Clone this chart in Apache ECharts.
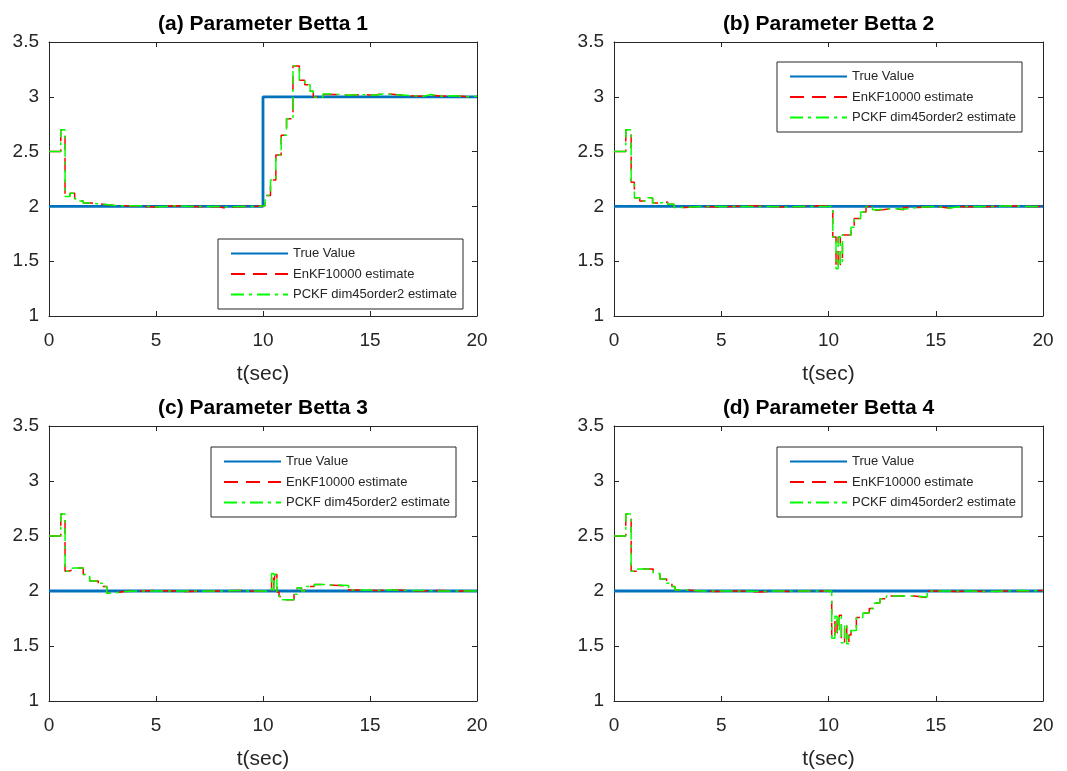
<!DOCTYPE html>
<html>
<head>
<meta charset="utf-8">
<script src="https://cdn.jsdelivr.net/npm/echarts@6/dist/echarts.min.js"></script>
<style>
  html, body { margin: 0; padding: 0; background: #fff; }
  #chart { width: 1067px; height: 771px; }
</style>
</head>
<body>
<div id="chart"></div>
<script>
// panel (a)
const tA     = [0, 0.55, 0.75, 0.98, 1.2, 1.4, 1.6, 2.0, 2.5, 3.0, 3.6, 4.3, 5.0, 5.8, 6.6, 7.4, 7.9, 8.2, 9.0, 9.6, 10.1, 10.35, 10.6, 10.85, 11.1, 11.4, 11.7, 11.95, 12.2, 12.35, 12.8, 13.4, 14.0, 14.6, 15.2, 15.6, 16.2, 16.9, 17.5, 17.8, 18.4, 19.0, 19.6, 20];
const enkfA  = [2.5, 2.7, 2.09, 2.12, 2.07, 2.05, 2.03, 2.02, 2.01, 2.005, 2.0, 1.995, 2.005, 2.0, 1.995, 2.0, 1.985, 2.0, 2.0, 2.005, 2.1, 2.24, 2.47, 2.65, 2.8, 3.28, 3.15, 3.11, 3.05, 2.995, 3.02, 3.015, 3.02, 3.015, 3.03, 3.02, 3.01, 3.005, 3.015, 3.005, 3.01, 3.0, 3.005, 3.0];
const pckfA  = [2.5, 2.7, 2.09, 2.12, 2.07, 2.05, 2.03, 2.02, 2.01, 2.005, 2.005, 1.995, 2.005, 2.0, 2.0, 2.0, 1.995, 2.0, 2.0, 2.005, 2.1, 2.24, 2.47, 2.65, 2.8, 3.28, 3.15, 3.11, 3.05, 2.995, 3.025, 3.015, 3.02, 3.015, 3.025, 3.02, 3.01, 3.005, 3.02, 3.005, 3.01, 3.0, 3.005, 3.0];
const trueTA = [0, 10, 20];
const trueA  = [2, 3, 3];

// panel (b)
const tB     = [0, 0.55, 0.8, 0.95, 1.2, 1.5, 1.8, 2.1, 2.5, 2.8, 3.3, 4.0, 4.8, 5.6, 6.4, 7.2, 8.0, 8.8, 9.5, 10.2, 10.35, 10.45, 10.55, 10.65, 11.05, 11.2, 11.5, 11.75, 12.05, 12.3, 13.0, 13.5, 14.2, 15.0, 15.6, 16.3, 17.0, 17.7, 18.5, 19.2, 20];
const enkfB  = [2.5, 2.7, 2.22, 2.08, 2.05, 2.08, 2.03, 2.04, 2.02, 1.99, 2.0, 1.995, 2.0, 2.005, 2.0, 1.995, 2.0, 2.005, 2.0, 1.72, 1.44, 1.72, 1.47, 1.74, 1.81, 1.89, 1.95, 2.0, 1.965, 1.98, 1.97, 1.99, 2.0, 1.985, 2.0, 1.995, 2.0, 2.005, 2.0, 2.0, 2.0];
const pckfB  = [2.5, 2.7, 2.22, 2.08, 2.05, 2.08, 2.03, 2.04, 2.02, 1.99, 2.0, 2.0, 2.0, 2.0, 2.0, 1.995, 2.0, 2.0, 2.0, 1.72, 1.43, 1.72, 1.47, 1.74, 1.81, 1.89, 1.95, 2.0, 1.97, 1.98, 1.975, 1.99, 2.0, 1.985, 2.0, 2.0, 2.0, 2.005, 2.0, 2.0, 2.0];
const trueTB = [0, 20];
const trueB  = [2, 2];

// panel (c)
const tC     = [0, 0.55, 0.75, 0.9, 1.1, 1.6, 1.9, 2.3, 2.5, 2.7, 3.0, 3.5, 4.2, 5.0, 5.8, 6.5, 7.3, 8.0, 8.8, 9.5, 10.4, 10.5, 10.55, 10.65, 10.75, 10.9, 11.45, 11.6, 11.8, 11.95, 12.4, 12.7, 14.0, 14.5, 15.3, 16.0, 16.8, 17.5, 18.3, 19.0, 20];
const enkfC  = [2.5, 2.7, 2.18, 2.19, 2.21, 2.15, 2.09, 2.07, 2.04, 1.98, 1.995, 2.0, 2.005, 2.0, 1.995, 2.0, 2.0, 2.005, 2.0, 1.995, 2.15, 2.0, 2.15, 1.99, 1.95, 1.92, 1.97, 2.03, 2.0, 2.04, 2.06, 2.045, 2.01, 2.005, 2.01, 2.005, 2.0, 2.005, 2.0, 2.0, 2.0];
const pckfC  = [2.5, 2.7, 2.18, 2.19, 2.21, 2.15, 2.09, 2.07, 2.04, 1.98, 1.995, 2.0, 2.0, 2.0, 2.0, 2.0, 2.0, 2.005, 2.0, 2.0, 2.16, 2.0, 2.15, 1.99, 1.95, 1.92, 1.97, 2.03, 2.0, 2.04, 2.06, 2.05, 2.01, 2.005, 2.01, 2.005, 2.005, 2.0, 2.0, 2.0, 2.0];
const trueTC = [0, 20];
const trueC  = [2, 2];

// panel (d)
const tD     = [0, 0.55, 0.8, 1.1, 1.5, 1.83, 2.14, 2.45, 2.7, 2.84, 3.3, 4.0, 4.8, 5.5, 6.0, 6.8, 7.5, 8.3, 9.0, 9.7, 10.15, 10.3, 10.4, 10.5, 10.6, 10.75, 10.85, 10.95, 11.05, 11.3, 11.6, 11.9, 12.15, 12.4, 12.7, 14.0, 14.6, 15.2, 16.0, 16.7, 17.5, 18.3, 19.0, 20];
const enkfD  = [2.5, 2.7, 2.18, 2.2, 2.2, 2.16, 2.11, 2.07, 2.04, 2.01, 2.0, 1.995, 2.0, 2.0, 1.99, 2.0, 1.995, 2.0, 2.0, 2.0, 1.57, 1.76, 1.62, 1.78, 1.53, 1.7, 1.52, 1.6, 1.64, 1.76, 1.8, 1.84, 1.89, 1.93, 1.955, 1.94, 2.0, 1.995, 2.0, 1.995, 2.0, 2.0, 2.005, 2.0];
const pckfD  = [2.5, 2.7, 2.18, 2.2, 2.2, 2.16, 2.11, 2.07, 2.04, 2.01, 2.0, 2.0, 2.0, 2.0, 1.995, 2.0, 2.0, 2.0, 2.0, 2.0, 1.57, 1.77, 1.62, 1.78, 1.53, 1.7, 1.52, 1.6, 1.64, 1.76, 1.8, 1.84, 1.89, 1.93, 1.955, 1.945, 2.0, 2.0, 2.0, 1.995, 2.0, 2.005, 2.0, 2.0];
const trueTD = [0, 20];
const trueD  = [2, 2];

const titles = ['(a) Parameter Betta 1', '(b) Parameter Betta 2', '(c) Parameter Betta 3', '(d) Parameter Betta 4'];
const seriesNames = ['True Value', 'EnKF10000 estimate', 'PCKF dim45order2 estimate'];
const xTicks = { min: 0, max: 20, interval: 5 };
const yTicks = { min: 1, max: 3.5, interval: 0.5 };

const panels = [
    { t: tA, enkf: enkfA, pckf: pckfA, trueT: trueTA, trueV: trueA },
    { t: tB, enkf: enkfB, pckf: pckfB, trueT: trueTB, trueV: trueB },
    { t: tC, enkf: enkfC, pckf: pckfC, trueT: trueTC, trueV: trueC },
    { t: tD, enkf: enkfD, pckf: pckfD, trueT: trueTD, trueV: trueD }
];

// plot boxes and legend anchors, in pixels
const boxes = [
    { left: 49, top: 42, width: 428, height: 274, legendLeft: 218, legendTop: 239 },
    { left: 614, top: 42, width: 429, height: 274, legendLeft: 777, legendTop: 62 },
    { left: 49, top: 426, width: 428, height: 275, legendLeft: 211, legendTop: 447 },
    { left: 614, top: 426, width: 429, height: 275, legendLeft: 777, legendTop: 447 }
];

const axisColor = '#262626';
const font = '"Liberation Sans", Arial, Helvetica, sans-serif';

function zip(xs, ys) {
    return xs.map((x, i) => [x, ys[i]]);
}

const option = {
    backgroundColor: '#fff',
    animation: false,
    title: [],
    grid: [],
    xAxis: [],
    yAxis: [],
    legend: [],
    series: []
};

boxes.forEach((b, i) => {
    option.grid.push({ left: b.left, top: b.top, width: b.width, height: b.height, containLabel: false });

    option.title.push({
        text: titles[i],
        left: b.left + b.width / 2,
        top: b.top - 28,
        textAlign: 'center',
        padding: 0,
        textStyle: { fontFamily: font, fontWeight: 'bold', fontSize: 21, color: '#000' }
    });

    const axisLine = { show: true, onZero: false, lineStyle: { color: axisColor, width: 1 } };
    const tick = { show: true, inside: true, length: 5, lineStyle: { color: axisColor } };

    // bottom / left axes carry labels; top / right just close the box
    option.xAxis.push({
        type: 'value', gridIndex: i, position: 'bottom', ...xTicks,
        axisLine, axisTick: tick, splitLine: { show: false },
        axisLabel: { color: axisColor, fontFamily: font, fontSize: 19, margin: 15 },
        name: 't(sec)', nameLocation: 'middle', nameGap: 48,
        nameTextStyle: { color: axisColor, fontFamily: font, fontSize: 21 }
    });
    option.xAxis.push({
        type: 'value', gridIndex: i, position: 'top', ...xTicks,
        axisLine, axisTick: tick, splitLine: { show: false }, axisLabel: { show: false }
    });
    option.yAxis.push({
        type: 'value', gridIndex: i, position: 'left', ...yTicks,
        axisLine, axisTick: tick, splitLine: { show: false },
        axisLabel: { color: axisColor, fontFamily: font, fontSize: 19, margin: 10 }
    });
    option.yAxis.push({
        type: 'value', gridIndex: i, position: 'right', ...yTicks,
        axisLine, axisTick: tick, splitLine: { show: false }, axisLabel: { show: false }
    });

    option.legend.push({
        left: b.legendLeft, top: b.legendTop,
        orient: 'vertical',
        data: seriesNames,
        selectedMode: false,
        backgroundColor: '#fff',
        borderColor: axisColor, borderWidth: 1, borderRadius: 0,
        padding: [8, 6, 8, 12],
        itemWidth: 57, itemHeight: 12, itemGap: 7.5,
        itemStyle: { opacity: 0, borderWidth: 0 },
        textStyle: { fontFamily: font, fontSize: 13, color: axisColor }
    });

    const p = panels[i];
    const xi = i * 2, yi = i * 2;
    option.series.push({
        name: seriesNames[0], type: 'line', step: 'end', xAxisIndex: xi, yAxisIndex: yi,
        data: zip(p.trueT, p.trueV), symbol: 'none',
        lineStyle: { color: '#0072BD', width: 2.8 }, itemStyle: { color: '#0072BD' }
    });
    option.series.push({
        name: seriesNames[1], type: 'line', step: 'end', xAxisIndex: xi, yAxisIndex: yi,
        data: zip(p.t, p.enkf), symbol: 'none',
        lineStyle: { color: '#ff0000', width: 1.5, type: [14, 8] }, itemStyle: { color: '#ff0000' }
    });
    option.series.push({
        name: seriesNames[2], type: 'line', step: 'end', xAxisIndex: xi, yAxisIndex: yi,
        data: zip(p.t, p.pckf), symbol: 'none',
        lineStyle: { color: '#00ff00', width: 1.5, type: [13, 5, 3, 5] }, itemStyle: { color: '#00ff00' }
    });
});

const chart = echarts.init(document.getElementById('chart'), null, { renderer: 'canvas' });
chart.setOption(option);
</script>
</body>
</html>
